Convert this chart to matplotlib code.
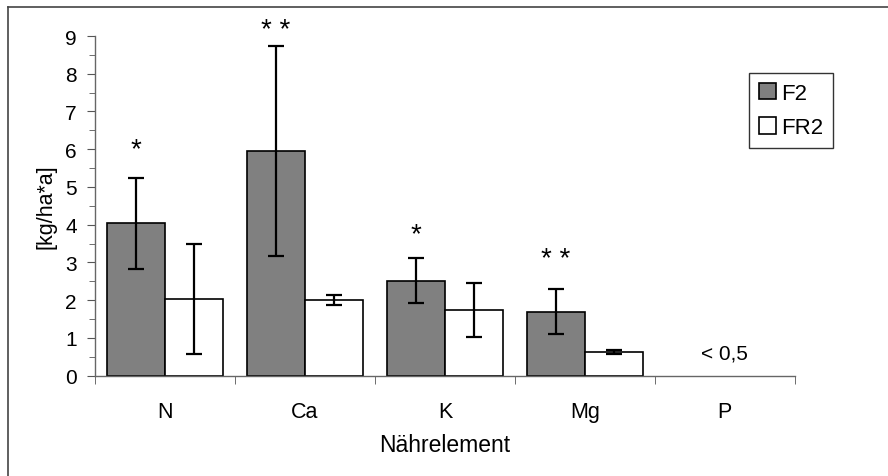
import matplotlib.pyplot as plt
import numpy as np
from matplotlib.lines import Line2D

plt.rcParams['font.family'] = ['Liberation Sans', 'DejaVu Sans']

# Daten
elemente = ['N', 'Ca', 'K', 'Mg', 'P']
f2 = [4.04, 5.96, 2.52, 1.70, np.nan]
f2_err = [1.2, 2.78, 0.6, 0.6, np.nan]
fr2 = [2.03, 2.0, 1.74, 0.63, np.nan]
fr2_err = [1.45, 0.13, 0.72, 0.05, np.nan]
sterne = ['*', '* *', '*', '* *', '']
stern_y = [6.0, 9.15, 3.75, 3.1, 0]

fig = plt.figure(figsize=(8.88, 4.77), dpi=100)
ax = fig.add_axes([0.107, 0.2103, 0.788, 0.7121])

x = np.arange(len(elemente))
w = 0.4167
kw = dict(edgecolor='black', linewidth=1.2, error_kw=dict(elinewidth=1.6, capthick=1.6),
          capsize=5.5, ecolor='black')
ax.bar(x - w / 2, f2, w, yerr=f2_err, color='#808080', label='F2', **kw)
ax.bar(x + w / 2, fr2, w, yerr=fr2_err, color='white', label='FR2', **kw)

# Signifikanzsterne
for i, s in enumerate(sterne):
    if s:
        ax.text(x[i] - w / 2, stern_y[i], s, ha='center', va='center', fontsize=20,
                clip_on=False)
ax.text(x[4], 0.6, '< 0,5', ha='center', va='center', fontsize=15)

ax.set_xlim(-0.5, len(elemente) - 0.5)
ax.set_ylim(0, 9)
ax.set_yticks(range(10))
ax.set_yticks(np.arange(0.5, 9, 1), minor=True)
ax.set_xticks(x)
ax.set_xticklabels(elemente, fontsize=15.5)
ax.set_xticks(np.arange(-0.5, len(elemente), 1), minor=True)
ax.tick_params(axis='x', which='major', length=0, pad=18)
ax.tick_params(axis='x', which='minor', length=6, color='#555555')
ax.tick_params(axis='y', which='major', length=6, color='#555555', labelsize=15, pad=7)
ax.tick_params(axis='y', which='minor', length=4, color='#555555')

for s in ['top', 'right']:
    ax.spines[s].set_visible(False)
for s in ['left', 'bottom']:
    ax.spines[s].set_color('#666666')
    ax.spines[s].set_linewidth(1.0)

ax.set_xlabel('Nährelement', fontsize=16.5, labelpad=8)
ax.set_ylabel('[kg/ha*a]', fontsize=15.5, labelpad=6)

leg = ax.legend(loc='upper left', bbox_to_anchor=(749 / 888, 1 - 74 / 477),
                bbox_transform=fig.transFigure, fontsize=16, frameon=True, fancybox=False,
                borderaxespad=0, handlelength=0.75, handleheight=0.75, handletextpad=0.25,
                borderpad=0.45, labelspacing=0.6)
leg.get_frame().set_edgecolor('black')
leg.get_frame().set_linewidth(1.0)

# Rahmen um die Grafik (oben und links)
fig.add_artist(Line2D([7.5 / 888, 1], [1 - 7.5 / 477] * 2, transform=fig.transFigure,
                      color='#444444', linewidth=1.2))
fig.add_artist(Line2D([7.5 / 888] * 2, [0, 1 - 7.5 / 477], transform=fig.transFigure,
                      color='#444444', linewidth=1.2))

fig.savefig('out.png', dpi=100)
